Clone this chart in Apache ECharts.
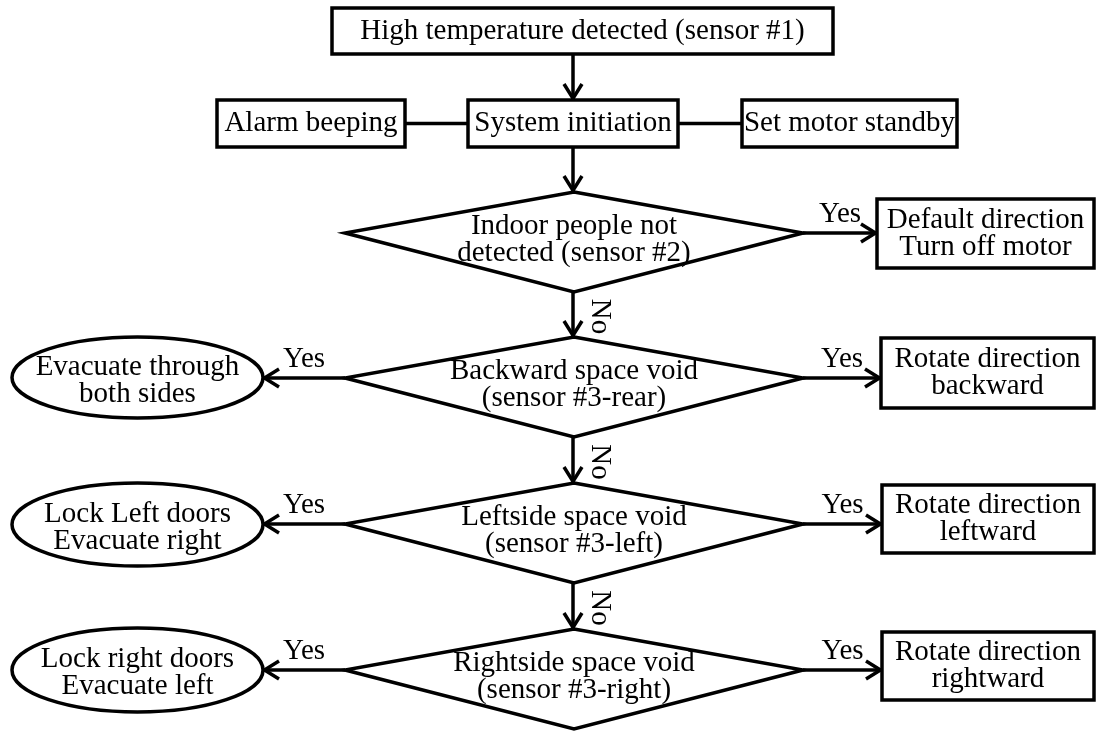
<!DOCTYPE html>
<html>
<head>
<meta charset="utf-8">
<script src="https://cdn.jsdelivr.net/npm/echarts@6/dist/echarts.min.js"></script>
<style>
  html, body { margin: 0; padding: 0; background: #fff; }
  #chart { width: 1097px; height: 731px; }
</style>
</head>
<body>
<div id="chart"></div>
<script>
// flowchart content
const nodeLabels = [
  'High temperature detected (sensor #1)',
  'Alarm beeping',
  'System initiation',
  'Set motor standby',
  'Indoor people not\ndetected (sensor #2)',
  'Default direction\nTurn off motor',
  'Evacuate through\nboth sides',
  'Backward space void\n(sensor #3-rear)',
  'Rotate direction\nbackward',
  'Lock Left doors\nEvacuate right',
  'Leftside space void\n(sensor #3-left)',
  'Rotate direction\nleftward',
  'Lock right doors\nEvacuate left',
  'Rightside space void\n(sensor #3-right)',
  'Rotate direction\nrightward'
];
const nodeKinds = ['box', 'box', 'box', 'box', 'diamond', 'box', 'ellipse', 'diamond', 'box',
  'ellipse', 'diamond', 'box', 'ellipse', 'diamond', 'box'];

// edges: from, to, label, arrow head
const edgeFrom  = [0, 2, 2, 2, 4, 4, 7, 7, 7, 10, 10, 10, 13, 13];
const edgeTo    = [2, 1, 3, 4, 5, 7, 6, 8, 10, 9, 11, 13, 12, 14];
const edgeText  = ['', '', '', '', 'Yes', 'No', 'Yes', 'Yes', 'No', 'Yes', 'Yes', 'No', 'Yes', 'Yes'];
const edgeArrow = [true, false, false, true, true, true, true, true, true, true, true, true, true, true];

// layout, in units of the hidden axes: [left, top, right, bottom]
const nodeBox = [
  [332, 8, 833, 54],
  [217, 100, 405, 147],
  [468, 100, 678, 147],
  [742, 100, 957, 147],
  [345, 192, 803, 292],
  [877, 199, 1094, 268],
  [12, 337, 263, 418],
  [345, 337, 803, 437],
  [881, 338, 1094, 408],
  [12, 483, 263, 566],
  [345, 483, 803, 583],
  [882, 485, 1094, 553],
  [12, 628, 263, 712],
  [345, 629, 803, 729],
  [882, 632, 1094, 700]
];
const diamondTip = 0.41;   // side corners sit 41% down the diamond
const spineX = 573;

const FONT = '29px "Liberation Serif", "Times New Roman", serif';
const LW = 3.5;

function anchorY(i) {
  const b = nodeBox[i];
  if (nodeKinds[i] === 'diamond') return b[1] + (b[3] - b[1]) * diamondTip;
  return (b[1] + b[3]) / 2;
}

function edgeEnds(k) {
  const a = nodeBox[edgeFrom[k]], b = nodeBox[edgeTo[k]];
  if (b[1] >= a[3]) return [[spineX, a[3]], [spineX, b[1]]];
  const y = anchorY(edgeFrom[k]);
  if (b[0] >= a[2]) return [[a[2], y], [b[0], y]];
  return [[a[0], y], [b[2], y]];
}

function renderNode(params, api) {
  const i = params.dataIndex;
  const b = nodeBox[i];
  const p0 = api.coord([b[0], b[1]]);
  const p1 = api.coord([b[2], b[3]]);
  const x0 = p0[0], y0 = p0[1], x1 = p1[0], y1 = p1[1];
  const w = x1 - x0, h = y1 - y0;
  const cx = (x0 + x1) / 2, cy = (y0 + y1) / 2;
  const st = { fill: '#fff', stroke: '#000', lineWidth: LW };
  let shape;
  let ty = cy;
  if (nodeKinds[i] === 'box') {
    shape = { type: 'rect', shape: { x: x0, y: y0, width: w, height: h }, style: st };
  } else if (nodeKinds[i] === 'ellipse') {
    shape = { type: 'ellipse', shape: { cx: cx, cy: cy, rx: w / 2, ry: h / 2 }, style: st };
    ty = cy + 3;
  } else {
    const my = y0 + h * diamondTip;
    shape = { type: 'polygon', shape: { points: [[cx, y0], [x1, my], [cx, y1], [x0, my]] }, style: st };
    ty = cy - 2;
  }
  return {
    type: 'group',
    children: [
      shape,
      {
        type: 'text',
        x: cx, y: ty,
        style: {
          text: nodeLabels[i], font: FONT, fill: '#000',
          textAlign: 'center', textVerticalAlign: 'middle', lineHeight: 27
        }
      }
    ]
  };
}

function renderEdge(params, api) {
  const k = params.dataIndex;
  const e = edgeEnds(k);
  const s = api.coord(e[0]);
  const t = api.coord(e[1]);
  const children = [{
    type: 'line',
    shape: { x1: s[0], y1: s[1], x2: t[0], y2: t[1] },
    style: { stroke: '#000', lineWidth: LW }
  }];
  if (edgeArrow[k]) {
    const dx = t[0] - s[0], dy = t[1] - s[1];
    const len = Math.sqrt(dx * dx + dy * dy);
    const ux = dx / len, uy = dy / len;
    const L = 16, W = 9;
    children.push({
      type: 'polyline',
      shape: { points: [
        [t[0] - ux * L - uy * W, t[1] - uy * L + ux * W],
        [t[0] - ux * 1.5, t[1] - uy * 1.5],
        [t[0] - ux * L + uy * W, t[1] - uy * L - ux * W]
      ] },
      style: { stroke: '#000', lineWidth: LW, fill: null, lineJoin: 'miter' }
    });
  }
  if (edgeText[k]) {
    const vertical = Math.abs(t[0] - s[0]) < 1;
    children.push({
      type: 'text',
      x: vertical ? s[0] + 27 : (s[0] + t[0]) / 2,
      y: vertical ? (s[1] + t[1]) / 2 + 2 : s[1] - 19,
      rotation: vertical ? -Math.PI / 2 : 0,
      style: {
        text: edgeText[k], font: FONT, fill: '#000',
        textAlign: 'center', textVerticalAlign: 'middle'
      }
    });
  }
  return { type: 'group', children: children };
}

const chart = echarts.init(document.getElementById('chart'));
chart.setOption({
  backgroundColor: '#fff',
  animation: false,
  grid: { left: 0, right: 0, top: 0, bottom: 0 },
  xAxis: { type: 'value', min: 0, max: 1097, show: false },
  yAxis: { type: 'value', min: 0, max: 731, inverse: true, show: false },
  series: [
    {
      type: 'custom',
      clip: false,
      renderItem: renderEdge,
      data: edgeFrom.map((f, k) => [k, 0])
    },
    {
      type: 'custom',
      clip: false,
      renderItem: renderNode,
      data: nodeLabels.map((n, i) => [i, 0])
    }
  ]
});
</script>
</body>
</html>
